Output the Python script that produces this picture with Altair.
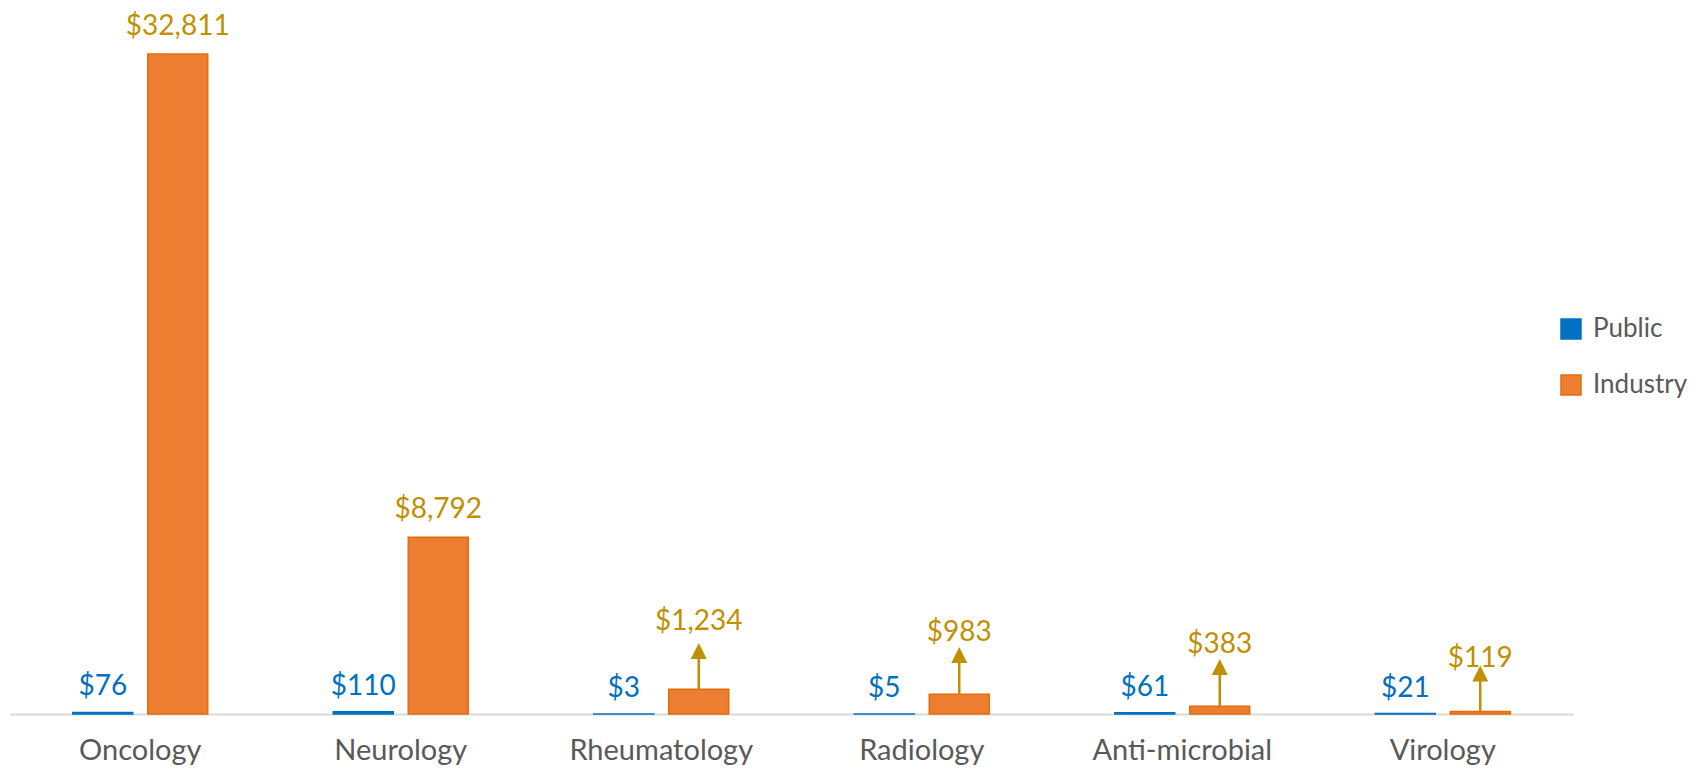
import altair as alt
import pandas as pd

categories = ["Oncology", "Neurology", "Rheumatology", "Radiology", "Anti-microbial", "Virology"]
series = ["Public", "Industry"]
public = [76, 110, 3, 5, 61, 21]
industry = [32811, 8792, 1234, 983, 383, 119]
# where each Industry label is anchored, in $ on the value scale (small ones were moved up by hand)
industry_label_at = [32811, 8792, 3232, 2685, 2088, 1392]
# centre of the arrow head pointing from the small bars to their moved label, in $ (None = no arrow)
arrow_head_at = [None, None, 3132, 2933, 2337, 2013]

BLUE = "#0070C0"
ORANGE = "#ED7D31"
ORANGE_EDGE = "#E46C0A"
GOLD = "#BF9000"
GREY = "#595959"
FONT = "Lato"

rows = []
for i, c in enumerate(categories):
    rows.append({"category": c, "series": "Public", "value": public[i],
                 "label": f"${public[i]:,}", "label_at": public[i], "head": None})
    rows.append({"category": c, "series": "Industry", "value": industry[i],
                 "label": f"${industry[i]:,}", "label_at": industry_label_at[i],
                 "head": arrow_head_at[i]})
df = pd.DataFrame(rows)

x_enc = alt.X("category:N", sort=categories, title=None,
              scale=alt.Scale(paddingInner=0.482, paddingOuter=0.241),
              axis=alt.Axis(orient="bottom", domainColor="#D9D9D9", domainWidth=2,
                            ticks=False, tickSize=0, labelAngle=0, labelFont=FONT,
                            labelFontSize=29, labelColor=GREY, labelPadding=45,
                            labelLimit=600, labelOverlap=False,
                            labelBaseline="alphabetic", grid=False))
xo_enc = alt.XOffset("series:N", sort=series, scale=alt.Scale(domain=series, paddingInner=0.2))
y_scale = alt.Scale(domain=[0, 35000], nice=False, zero=True)

base = alt.Chart(df)

legend = alt.Legend(title=None, orient="none", legendX=1548, legendY=306,
                    symbolType="square", symbolSize=400, symbolStrokeWidth=1.5,
                    labelFont=FONT, labelFontSize=26, labelColor=GREY, labelLimit=300,
                    labelOffset=9, rowPadding=30, padding=0)

bars = base.mark_bar(strokeWidth=1.5).encode(
    x=x_enc,
    xOffset=xo_enc,
    y=alt.Y("value:Q", scale=y_scale, axis=None),
    color=alt.Color("series:N", scale=alt.Scale(domain=series, range=[BLUE, ORANGE]), legend=legend),
    stroke=alt.Stroke("series:N", scale=alt.Scale(domain=series, range=[BLUE, ORANGE_EDGE]), legend=legend),
)

public_text = base.transform_filter(alt.datum.series == "Public").mark_text(
    dy=-17, baseline="alphabetic", align="center", font=FONT, fontSize=28, color=BLUE
).encode(x=x_enc, xOffset=xo_enc, y=alt.Y("value:Q", scale=y_scale, axis=None), text="label:N")

industry_text = base.transform_filter(alt.datum.series == "Industry").mark_text(
    dy=-19, baseline="alphabetic", align="center", font=FONT, fontSize=28, color=GOLD
).encode(x=x_enc, xOffset=xo_enc, y=alt.Y("label_at:Q", scale=y_scale, axis=None), text="label:N")

arrows = base.transform_filter("isValid(datum.head)").mark_rule(color=GOLD, strokeWidth=2.5).encode(
    x=x_enc, xOffset=xo_enc,
    y=alt.Y("value:Q", scale=y_scale, axis=None), y2="head:Q")

heads = base.transform_filter("isValid(datum.head)").mark_point(
    shape="M -1 1 L 1 1 L 0 -1 Z", filled=True, size=256, color=GOLD, opacity=1
).encode(x=x_enc, xOffset=xo_enc, y=alt.Y("head:Q", scale=y_scale, axis=None))

chart = alt.layer(bars, arrows, heads, public_text, industry_text).properties(
    width=1563, height=704,
    autosize=alt.AutoSizeParams(type="none"),
    padding={"left": 2, "top": 2, "right": 117, "bottom": 52},
).configure(background="white", view=alt.ViewConfig(stroke=None))

chart.save("out.html", embed_options={"renderer": "svg", "actions": False})
